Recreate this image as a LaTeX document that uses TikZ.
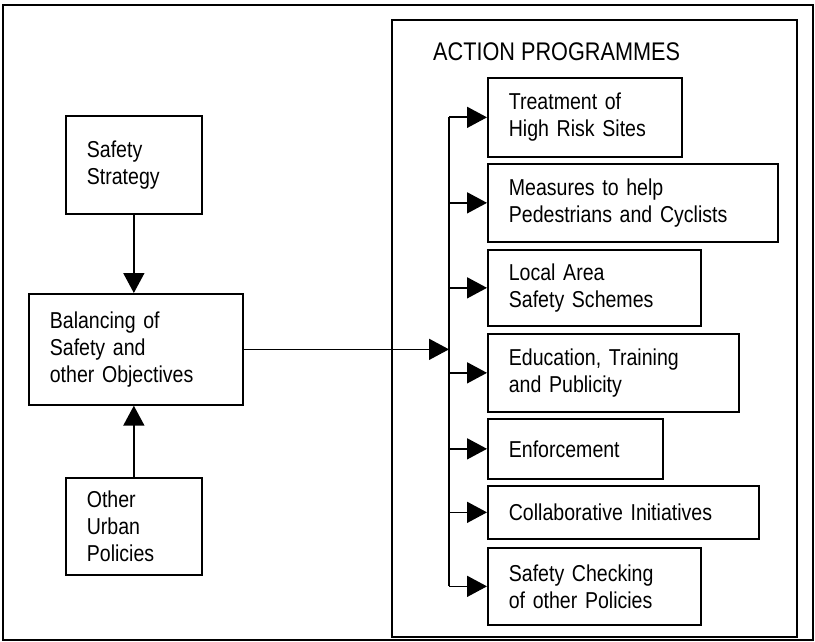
\documentclass[tikz,border=0pt]{standalone}
\usepackage{fontspec}
\setmainfont{Liberation Sans}[FakeStretch=0.85]
\usetikzlibrary{arrows.meta, positioning, calc}

\begin{document}
\begin{tikzpicture}[
        x=1pt, y=-1pt,
        font=\fontsize{23}{27}\selectfont,
        >={Triangle[length=20pt, width=21pt]},
        % styles
        baseBox/.style={rectangle, draw, line width=1.7pt, align=left, inner xsep=21pt, inner ysep=0pt, anchor=north west},
        % box sizes
        stepBox/.style 2 args={baseBox, text width=#1pt-42pt, minimum height=#2pt},
        % frame and label styles
        frameBox/.style={draw, line width=1.4pt},
        titleLbl/.style={font=\fontsize{25.5}{28}\selectfont, anchor=base west, inner sep=0pt},
        conn/.style={->, line width=1.7pt}
    ]

    \useasboundingbox (0,0) rectangle (815,642);

    % frames
    \draw [frameBox] (3,5) rectangle (813,640);
    \draw [frameBox] (392,20) rectangle (797,637);
    \node [titleLbl] (title) at (433,61) {ACTION PROGRAMMES};

    % nodes

    % left column
    \node [stepBox={136}{98}] (strat) at (65,115) {Safety\\Strategy};
    \node [stepBox={214}{111}] (balance) at (28,293) {Balancing of\\Safety and\\other Objectives};
    \node [stepBox={136}{97}] (urban) at (65,477) {Other\\Urban\\Policies};

    % action programmes
    \node [stepBox={194}{79}] (treat) at (487,77) {Treatment of\\High Risk Sites};
    \node [stepBox={290}{78}] (measures) at (487,163) {Measures to help\\Pedestrians and Cyclists};
    \node [stepBox={213}{76}] (local) at (487,249) {Local Area\\Safety Schemes};
    \node [stepBox={251}{78}] (edu) at (487,333) {Education, Training\\and Publicity};
    \node [stepBox={175}{60}] (enforce) at (487,418) {Enforcement};
    \node [stepBox={271}{53}] (collab) at (487,485) {Collaborative Initiatives};
    \node [stepBox={213}{77}] (check) at (487,547) {Safety Checking\\of other Policies};

    % connections
    \coordinate (bus) at (449,0);

    \draw [conn] (strat.south) -- (strat.south |- balance.north);
    \draw [conn] (urban.north) -- (urban.north |- balance.south);
    \draw [conn] (balance.east) -- (balance.east -| bus);

    % bus line to the programmes
    \draw [line width=1.7pt] (bus |- treat.west) -- (bus |- check.west);
    \foreach \prog in {treat, measures, local, edu, enforce, collab, check}
        \draw [conn] (bus |- \prog.west) -- (\prog.west);

\end{tikzpicture}
\end{document}
